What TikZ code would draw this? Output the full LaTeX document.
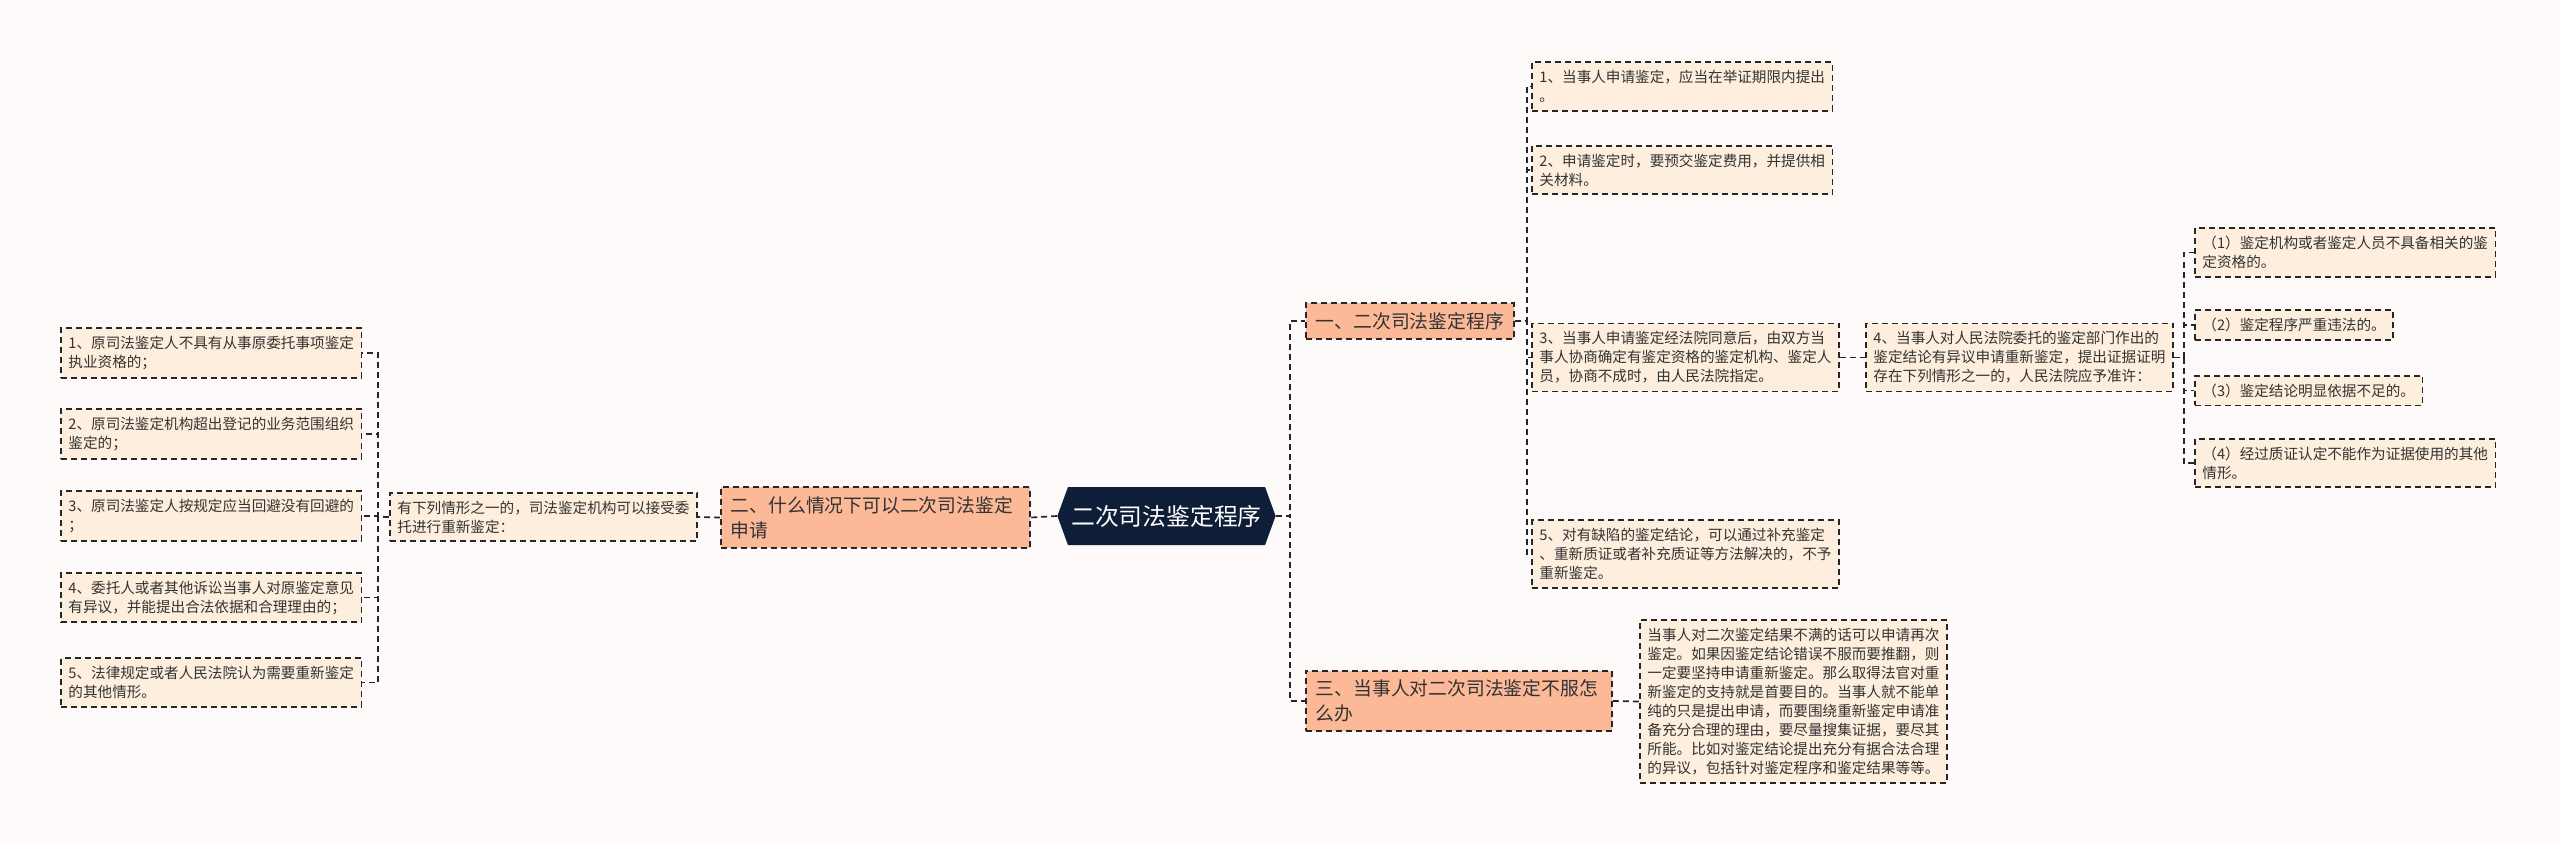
\documentclass[tikz,border=0pt]{standalone}
\usepackage{fontspec}
\setmainfont{Noto Sans CJK SC}
\usetikzlibrary{shapes.symbols}
\definecolor{bgcol}{HTML}{FDFAF9}
\definecolor{leafcol}{HTML}{FDEEDD}
\definecolor{branchcol}{HTML}{FBB998}
\definecolor{rootcol}{HTML}{0F1E38}
\definecolor{linecol}{HTML}{262626}
\definecolor{textcol}{HTML}{333333}
\newcommand{\leaffont}{\fontsize{14.6}{19}\selectfont}
\newcommand{\branchfont}{\fontsize{18.8}{25}\selectfont}
\newcommand{\rootfont}{\fontsize{23.8}{28}\selectfont}
\begin{document}
\begin{tikzpicture}[
    x=1pt, y=-1pt,
    leaf/.style={rectangle, draw=linecol, fill=leafcol, line width=1.9pt,
                 dash pattern=on 6pt off 4pt, align=left, anchor=west,
                 inner xsep=7.5pt, inner ysep=8pt, text=textcol, font=\leaffont},
    branch/.style={rectangle, draw=linecol, fill=branchcol, line width=1.9pt,
                 dash pattern=on 6pt off 4pt, align=left, anchor=west,
                 inner xsep=10pt, inner ysep=9pt, text=textcol, font=\branchfont},
    root/.style={signal, signal to=west and east, signal pointer angle=140,
                 fill=rootcol, text=white, font=\rootfont,
                 minimum width=217pt, minimum height=58pt},
    conn/.style={draw=linecol, line width=1.7pt, dash pattern=on 6pt off 4pt}
]
    \useasboundingbox[fill=bgcol] (0,0) rectangle (2560,845);

    % centre
    \node[root] (root) at (1166.5,516) {二次司法鉴定程序};

    % left side
    \node[branch, text width=289pt] (b2) at (720,517.5)
        {二、什么情况下可以二次司法鉴定\\申请};
    \node[leaf] (cond) at (389,517)
        {有下列情形之一的，司法鉴定机构可以接受委\\托进行重新鉴定：};
    \node[leaf] (l1) at (60,353)
        {1、原司法鉴定人不具有从事原委托事项鉴定\\执业资格的；};
    \node[leaf] (l2) at (60,434)
        {2、原司法鉴定机构超出登记的业务范围组织\\鉴定的；};
    \node[leaf] (l3) at (60,516)
        {3、原司法鉴定人按规定应当回避没有回避的\\；};
    \node[leaf] (l4) at (60,597.5)
        {4、委托人或者其他诉讼当事人对原鉴定意见\\有异议，并能提出合法依据和合理理由的；};
    \node[leaf] (l5) at (60,682.5)
        {5、法律规定或者人民法院认为需要重新鉴定\\的其他情形。};

    % right side, branch one
    \node[branch] (b1) at (1305,321) {一、二次司法鉴定程序};
    \node[leaf] (r1) at (1531,86.5)
        {1、当事人申请鉴定，应当在举证期限内提出\\。};
    \node[leaf] (r2) at (1531,170)
        {2、申请鉴定时，要预交鉴定费用，并提供相\\关材料。};
    \node[leaf] (r3) at (1531,357.5)
        {3、当事人申请鉴定经法院同意后，由双方当\\事人协商确定有鉴定资格的鉴定机构、鉴定人\\员，协商不成时，由人民法院指定。};
    \node[leaf] (r5) at (1531,554)
        {5、对有缺陷的鉴定结论，可以通过补充鉴定\\、重新质证或者补充质证等方法解决的，不予\\重新鉴定。};
    \node[leaf] (r4) at (1865,357.5)
        {4、当事人对人民法院委托的鉴定部门作出的\\鉴定结论有异议申请重新鉴定，提出证据证明\\存在下列情形之一的，人民法院应予准许：};
    \node[leaf] (s1) at (2194,252.5)
        {（1）鉴定机构或者鉴定人员不具备相关的鉴\\定资格的。};
    \node[leaf] (s2) at (2194,325) {（2）鉴定程序严重违法的。};
    \node[leaf] (s3) at (2194,390.5) {（3）鉴定结论明显依据不足的。};
    \node[leaf] (s4) at (2194,463)
        {（4）经过质证认定不能作为证据使用的其他\\情形。};

    % right side, branch three
    \node[branch, text width=286pt] (b3) at (1305,701)
        {三、当事人对二次司法鉴定不服怎\\么办};
    \node[leaf] (ans) at (1639,701.5)
        {当事人对二次鉴定结果不满的话可以申请再次\\鉴定。如果因鉴定结论错误不服而要推翻，则\\一定要坚持申请重新鉴定。那么取得法官对重\\新鉴定的支持就是首要目的。当事人就不能单\\纯的只是提出申请，而要围绕重新鉴定申请准\\备充分合理的理由，要尽量搜集证据，要尽其\\所能。比如对鉴定结论提出充分有据合法合理\\的异议，包括针对鉴定程序和鉴定结果等等。};

    % connectors
    \draw[conn] (root.west) -- (b2.east);
    \draw[conn] (b2.west) -- (cond.east);
    \foreach \i in {1,...,5}
        \draw[conn] (cond.west) -- ++(-11,0) |- (l\i.east);
    \foreach \n in {b1,b3}
        \draw[conn] (root.east) -- ++(14,0) |- (\n.west);
    \foreach \n in {r1,r2,r3,r5}
        \draw[conn] (b1.east) -- ++(12,0) |- (\n.west);
    \draw[conn] (r3.east) -- (r4.west);
    \foreach \n in {s1,s2,s3,s4}
        \draw[conn] (r4.east) -- ++(10,0) |- (\n.west);
    \draw[conn] (b3.east) -- (ans.west);
\end{tikzpicture}
\end{document}
